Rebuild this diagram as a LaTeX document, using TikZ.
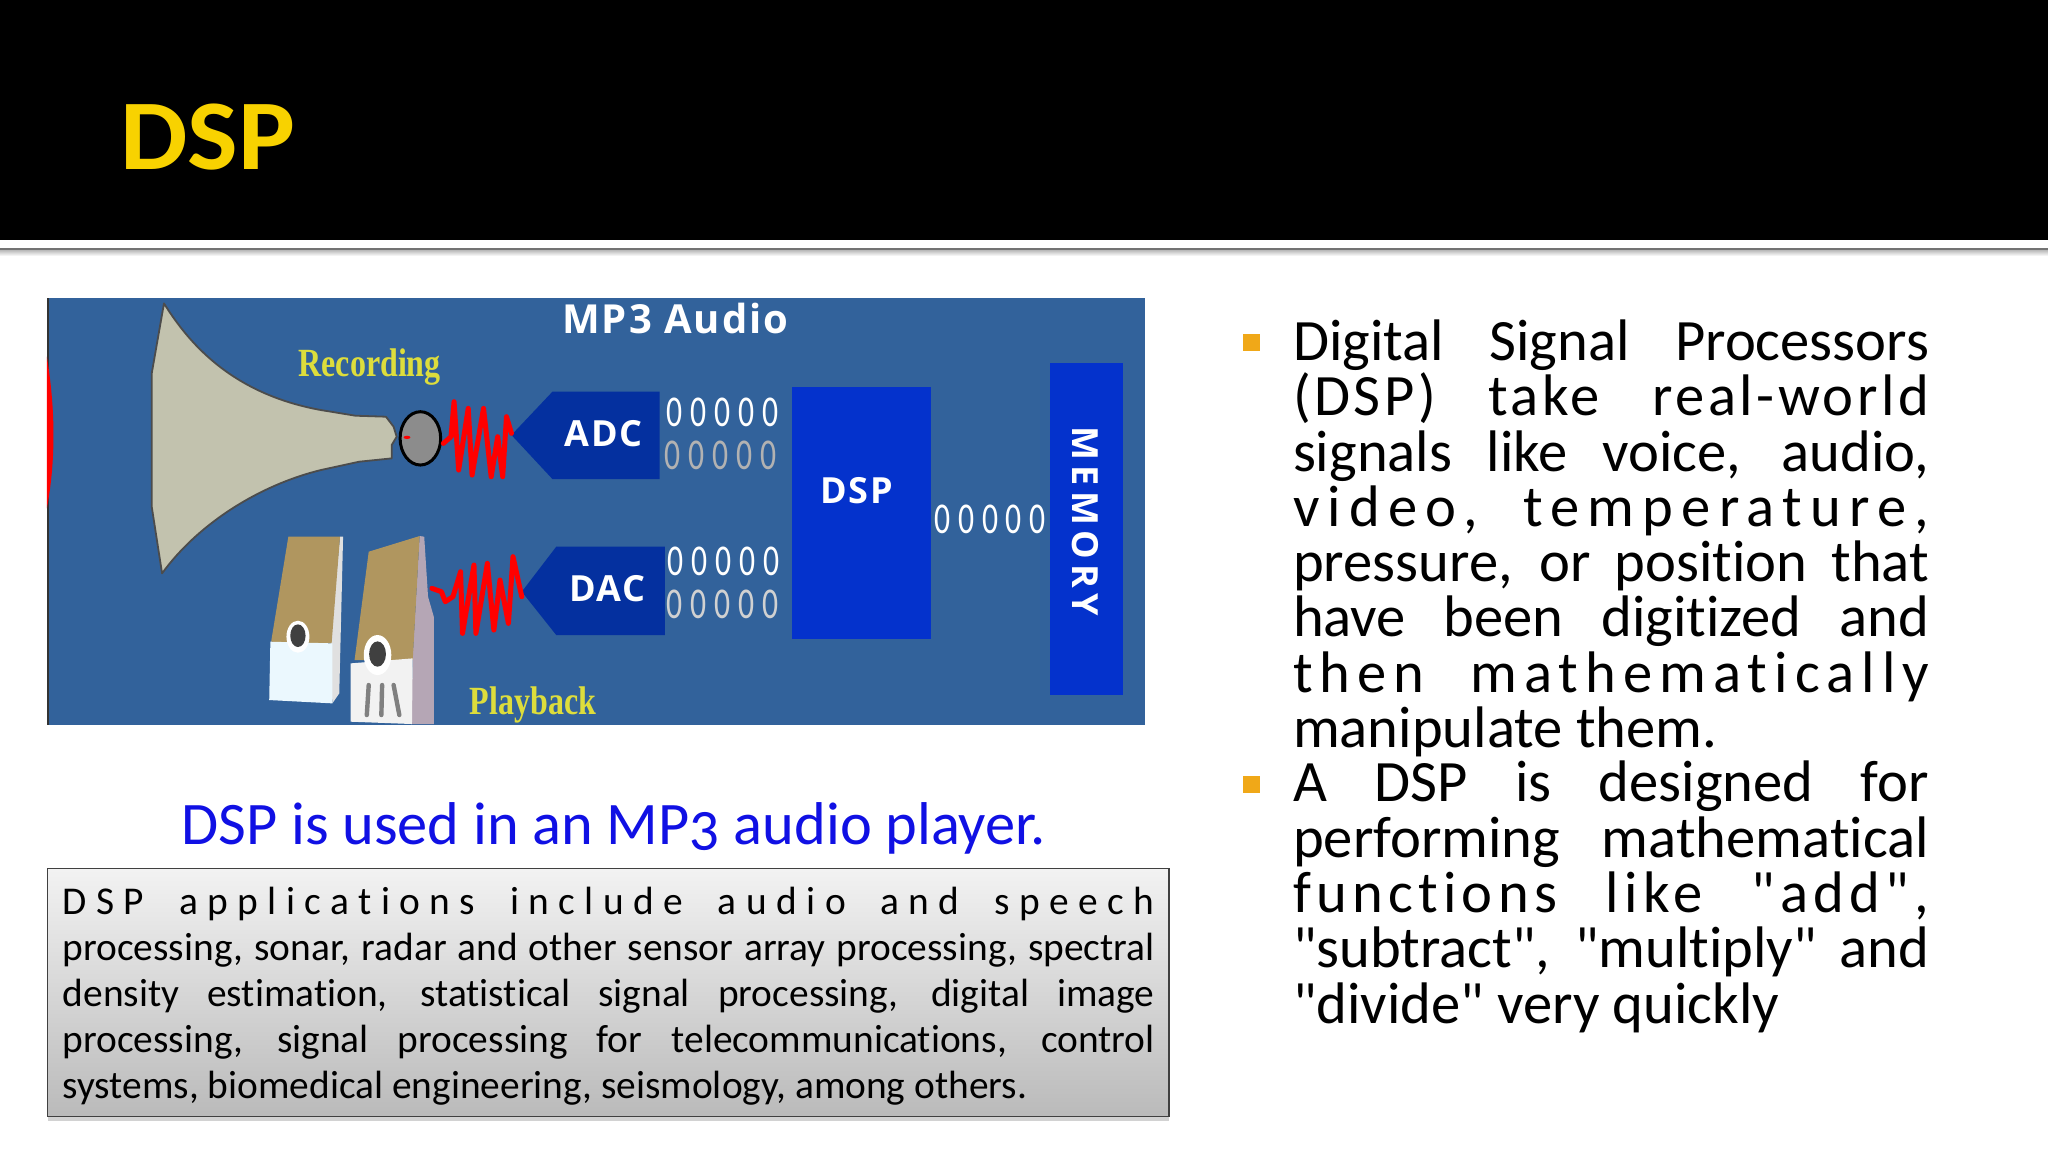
\documentclass[tikz,border=0pt]{standalone}
\usepackage{fontspec}
\usetikzlibrary{shadows}
\setmainfont{Carlito}
\newfontfamily\bodyf{Carlito}[Ligatures=NoCommon]
\newfontfamily\dgm{Open Sans}
\newfontfamily\srf{Liberation Serif}
\definecolor{plate}{HTML}{32629B}
\definecolor{navy}{HTML}{04309F}
\definecolor{royal}{HTML}{0432CC}
\definecolor{hornc}{HTML}{C2C2AE}
\definecolor{tan}{HTML}{B0965F}
\definecolor{capy}{HTML}{DDDD3C}
\definecolor{gold}{HTML}{F8D200}
\definecolor{bul}{HTML}{F0A818}
\definecolor{capblue}{HTML}{1010E4}
\newlength{\jw}
\newcommand{\jl}[2][0]{\makebox[\jw][s]{\addfontfeature{LetterSpace=#1}#2}\par}
\newcommand{\pl}[1]{\mbox{#1}\par}
\tikzset{
  blk/.style={text=white,inner sep=0pt,font=\dgm\bfseries\fontsize{18}{18}\selectfont\addfontfeature{LetterSpace=4}},
  bits/.style={inner sep=0pt,font=\fontsize{22}{22}\selectfont\addfontfeature{FakeStretch=0.72,LetterSpace=18},text=white},
  wave/.style={draw=red,line width=2.5pt,line join=round,line cap=round},
  bodyt/.style={inner sep=0pt,outer sep=0pt,anchor=base west},
  bullet/.style={fill=bul,minimum size=8.5pt,inner sep=0pt,draw=none}
}
\begin{document}
\begin{tikzpicture}[x=0.65306pt,y=-0.65306pt]
\useasboundingbox (0,0) rectangle (1568,882);
\fill[white] (0,0) rectangle (1568,882);
% header
\fill[black] (0,0) rectangle (1568,184);
\shade[top color=black!30,bottom color=white] (0,191) rectangle (1568,196);
\fill[black!55] (0,189.8) rectangle (1568,191.2);
\node[inner sep=0pt,anchor=base west,text=gold] (title) at (92,130) {\fontsize{50}{50}\selectfont\bfseries\scalebox{1.07}[1]{DSP}};
% diagram plate
\fill[plate] (36,228) rectangle (877,555);
\fill[black!80] (36,228) rectangle (37.5,555);
\begin{scope}[shift={(23,214.4)},xscale=0.293,yscale=0.2552]
  \fill[red] (44,230) .. controls (68,400) and (66,550) .. (44,685) -- cycle;
  % horn
  \draw[fill=hornc,draw=black!70,line width=0.9pt,line join=round] (350,70) .. controls (410,180) and (520,340) .. (760,390) -- (850,407) -- (930,410) -- (950,440) -- (958,470) -- (945,495) -- (945,535) -- (860,545) -- (760,570) .. controls (600,615) and (440,730) .. (345,880) -- (318,680) -- (318,280) -- cycle;
  % microphone
  \draw[fill=black!45,draw=black,line width=1.5pt] (1020,475) ellipse (53 and 80);
  \fill[red] (985,472) ellipse (9 and 5);
  % converters
  \fill[navy] (1258,465) -- (1365,335) -- (1645,335) -- (1645,597) -- (1365,597) -- cycle;
  \fill[navy] (1285,935) -- (1375,800) -- (1659,800) -- (1659,1065) -- (1375,1065) -- cycle;
  % waves
  \draw[wave] (1080,490) -- (1100,470) -- (1108,365) -- (1120,570) -- (1145,385) -- (1155,585) -- (1185,385) -- (1205,590) -- (1222,470) -- (1235,590) -- (1245,410) -- (1258,460);
  \draw[wave] (1050,925) -- (1075,935) -- (1085,965) -- (1105,950) -- (1125,875) -- (1130,1060) -- (1160,855) -- (1165,1060) -- (1195,850) -- (1212,1050) -- (1228,900) -- (1250,1030) -- (1262,830) -- (1285,950);
  % left speaker
  \fill[black!12] (810,770) -- (818,770) -- (808,1240) -- (790,1270) -- (785,1080) -- cycle;
  \fill[tan] (675,770) -- (810,770) -- (788,1090) -- (630,1085) -- cycle;
  \fill[cyan!8!white] (628,1085) -- (790,1090) -- (790,1270) -- (625,1260) -- cycle;
  \fill[white] (700,1070) ellipse (30 and 48);
  \fill[black!75] (700,1067) ellipse (20 and 34);
  % right speaker
  \fill[violet!35!black!35] (1018,768) -- (1030,770) -- (1040,950) -- (1055,1010) -- (1055,1332) -- (996,1332) -- (1000,1130) -- cycle;
  \fill[tan] (885,815) -- (1018,768) -- (1000,1140) -- (848,1140) -- cycle;
  \fill[black!5] (838,1150) -- (1000,1135) -- (998,1332) -- (838,1325) -- cycle;
  \fill[white] (908,1125) ellipse (36 and 60);
  \fill[black!75] (908,1122) ellipse (22 and 38);
  \foreach \a/\b in {885/880,920/918,950/965} \draw[black!50,line width=2.2pt,line cap=round] (\a,1215) -- (\b,1305);
\end{scope}
% blocks
\fill[royal] (606,296) rectangle (713,489);
\fill[royal] (804,277.7) rectangle (860,532);
% diagram labels
\node[inner sep=0pt,text=white,font=\dgm\bfseries\fontsize{20}{20}\selectfont\addfontfeature{LetterSpace=5}] (mp3) at (517,244) {MP3 Audio};
\node[inner sep=0pt,text=capy,font=\srf\bfseries\fontsize{20}{20}\selectfont] (rec) at (283,281) {\scalebox{0.8}[1]{Recording}};
\node[inner sep=0pt,text=capy,font=\srf\bfseries\fontsize{20}{20}\selectfont] (play) at (408,540) {\scalebox{0.8}[1]{Playback}};
\node[blk] (adc) at (462,332) {ADC};
\node[blk] (dac) at (465,451) {DAC};
\node[blk] (dspb) at (656,376) {DSP};
\node[blk,rotate=-90,font=\dgm\bfseries\fontsize{18}{18}\selectfont\addfontfeature{LetterSpace=15}] (mem) at (831,399) {MEMORY};
\node[bits] (b1) at (553.5,316) {00000};
\node[bits,text=black!30] (b2) at (551.5,349) {00000};
\node[bits] (b3) at (554,430) {00000};
\node[bits,text=black!18] (b4) at (553.5,463) {00000};
\node[bits] (b5) at (758,398) {00000};
% caption
\node[inner sep=0pt,text=capblue] (cap) at (470,634) {\bodyf\fontsize{30.2}{30}\selectfont\addfontfeature{Numbers=OldStyle}DSP is used in an MP3 audio player.};
% grey box
\draw[draw=black!75,line width=0.7pt,top color=black!5,bottom color=black!27,drop shadow={shadow xshift=0pt,shadow yshift=-2pt,opacity=0.35}] (36.5,665) rectangle (895,855);
\setlength{\jw}{546pt}
\node[bodyt] (apps) at (48,700.5) {\parbox[t]{\jw}{\bodyf\fontsize{19.7}{23}\selectfont\lineskiplimit=-100pt\parindent=0pt\parskip=0pt
\jl[24]{DSP applications include audio and speech}
\jl{processing, sonar, radar and other sensor array processing, spectral}
\jl{density estimation, statistical signal processing, digital image}
\jl{processing, signal processing for telecommunications, control}
\pl{systems, biomedical engineering, seismology, among others.}}};
% right column
\setlength{\jw}{318pt}
\node[bullet] (bu1) at (958.5,262.5) {};
\node[bullet] (bu2) at (958.5,600.5) {};
\node[bodyt] (par1) at (990,276) {\parbox[t]{\jw}{\bodyf\fontsize{29.3}{27.64}\selectfont\lineskiplimit=-100pt\parindent=0pt\parskip=0pt
\jl{Digital Signal Processors}
\jl[6]{(DSP) take real-world}
\jl{signals like voice, audio,}
\jl[14]{video, temperature,}
\jl{pressure, or position that}
\jl{have been digitized and}
\jl[12]{then mathematically}
\pl{manipulate them.}}};
\node[bodyt] (par2) at (990,614) {\parbox[t]{\jw}{\bodyf\fontsize{29.3}{27.64}\selectfont\lineskiplimit=-100pt\parindent=0pt\parskip=0pt
\jl{A DSP is designed for}
\jl{performing mathematical}
\jl[9]{functions like "add",}
\jl{"subtract", "multiply" and}
\pl{"divide" very quickly}}};
\end{tikzpicture}
\end{document}
